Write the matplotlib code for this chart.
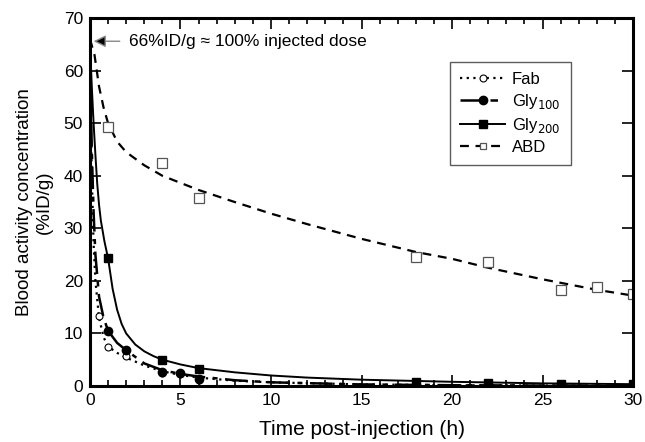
import numpy as np
import matplotlib.pyplot as plt
from matplotlib.ticker import MultipleLocator

plt.rcParams['font.family'] = ['Liberation Sans', 'DejaVu Sans']

# measured points (h, %ID/g)
fab_t = [0.5, 1, 2, 4, 5, 6]
fab_y = [13.3, 7.4, 5.8, 2.5, 2.2, 1.2]
gly100_t = [1, 2, 4, 5, 6]
gly100_y = [10.5, 6.8, 2.7, 2.5, 1.3]
gly200_t = [1, 4, 6, 18, 22, 26, 30]
gly200_y = [24.3, 5.0, 3.3, 0.7, 0.5, 0.4, 0.3]
abd_t = [1, 4, 6, 18, 22, 26, 28, 30]
abd_y = [49.3, 42.5, 35.8, 24.5, 23.5, 18.2, 18.8, 17.5]

# fitted curves
fab_fit_t = [0, 0.05, 0.1, 0.2, 0.3, 0.5, 0.75, 1, 1.5, 2, 3, 4, 5, 6, 8, 10, 15, 20, 25, 30]
fab_fit_y = [66, 50, 40, 27, 20, 13, 9.3, 7.5, 6.3, 5.4, 3.9, 2.8, 2.1, 1.6, 1.0, 0.7, 0.3, 0.15, 0.08, 0.05]
gly100_fit_t = [0, 0.05, 0.1, 0.2, 0.3, 0.5, 0.75, 1, 1.5, 2, 3, 4, 5, 6, 8, 10, 15, 20, 25, 30]
gly100_fit_y = [66, 54, 45, 33, 25, 17, 13, 10.5, 8.2, 6.8, 4.3, 3.0, 2.3, 1.8, 1.1, 0.7, 0.3, 0.15, 0.08, 0.05]
gly200_fit_t = [0, 0.05, 0.1, 0.2, 0.3, 0.4, 0.5, 0.6, 0.8, 1, 1.25, 1.5, 1.75, 2, 2.5, 3,
                3.5, 4, 5, 6, 8, 10, 12, 15, 20, 25, 30]
gly200_fit_y = [66, 61, 57, 50, 44, 38.5, 34.5, 31.5, 27.5, 24.3, 18.5, 14.5, 11.8, 10.0, 7.9, 6.6,
                5.7, 5.0, 4.1, 3.4, 2.6, 2.0, 1.6, 1.2, 0.8, 0.5, 0.35]
abd_fit_t = [0, 0.25, 0.5, 0.75, 1, 1.5, 2, 3, 4, 6, 8, 10, 12, 15, 18, 20, 22, 25, 28, 30]
abd_fit_y = [66, 63, 57, 53, 50, 46.5, 44.5, 42, 40, 37.3, 35, 32.8, 30.8, 28, 25.5, 24.2, 22.5,
             20.3, 18.3, 17.2]

fig = plt.figure(figsize=(6.45, 4.42), dpi=100)
ax = fig.add_axes([0.1395, 0.1267, 0.842, 0.8323])

ax.plot(fab_fit_t, fab_fit_y, color='black', lw=1.6, ls=(0, (1, 2)))
ax.plot(fab_t, fab_y, 'o', mfc='white', mec='black', ms=5, mew=0.8)
ax.plot(gly100_fit_t, gly100_fit_y, color='black', lw=1.8, ls=(0, (9, 3, 2, 3)))
ax.plot(gly100_t, gly100_y, 'o', color='black', ms=6)
ax.plot(gly200_fit_t, gly200_fit_y, color='black', lw=1.4, ls='-')
ax.plot(gly200_t, gly200_y, 's', color='black', ms=5.5)
ax.plot(abd_fit_t, abd_fit_y, color='black', lw=1.6, ls=(0, (4, 3)))
ax.plot(abd_t, abd_y, 's', mfc='white', mec='#555555', ms=6.5, mew=0.9)

# legend proxies
ax.plot([], [], color='black', lw=1.6, ls=(0, (1, 2)), marker='o', mfc='white',
        mec='black', ms=5, mew=0.8, label='Fab')
ax.plot([], [], color='black', lw=1.8, ls=(0, (8, 4, 3, 4)), marker='o', ms=6,
        label='Gly$_{100}$')
ax.plot([], [], color='black', lw=1.4, marker='s', ms=5.5, label='Gly$_{200}$')
ax.plot([], [], color='black', lw=1.6, ls=(0, (4, 3)), marker='s', mfc='white',
        mec='#555555', ms=5, mew=0.9, label='ABD')
h, l = ax.get_legend_handles_labels()
leg = ax.legend(h, l, loc='upper right', bbox_to_anchor=(0.885, 0.88), fontsize=12,
                frameon=True, fancybox=False, edgecolor='#333333', handlelength=2.7,
                borderpad=0.6, labelspacing=0.3, borderaxespad=0, handletextpad=0.4)
leg.get_frame().set_linewidth(1.0)

ax.annotate('', xy=(0.05, 65.6), xytext=(1.8, 65.6),
            arrowprops=dict(arrowstyle='-|>', color='#888888', lw=1.0,
                            mutation_scale=18, fc='black', ec='#888888'))
ax.text(2.15, 65.6, '66%ID/g \u2248 100% injected dose', fontsize=12.5, va='center', ha='left')

ax.set_xlim(0, 30)
ax.set_ylim(0, 70)
ax.xaxis.set_major_locator(MultipleLocator(5))
ax.xaxis.set_minor_locator(MultipleLocator(1))
ax.yaxis.set_major_locator(MultipleLocator(10))
ax.tick_params(which='both', direction='in', top=True, right=True, labelsize=12.5, width=1.2)
ax.tick_params(which='major', length=8, pad=5)
ax.tick_params(which='minor', length=4)
for s in ax.spines.values():
    s.set_linewidth(2.2)

ax.set_xlabel('Time post-injection (h)', fontsize=15, labelpad=9)
ax.set_ylabel('Blood activity concentration\n(%ID/g)', fontsize=13.5, labelpad=8)

fig.savefig('out.png', dpi=100)
